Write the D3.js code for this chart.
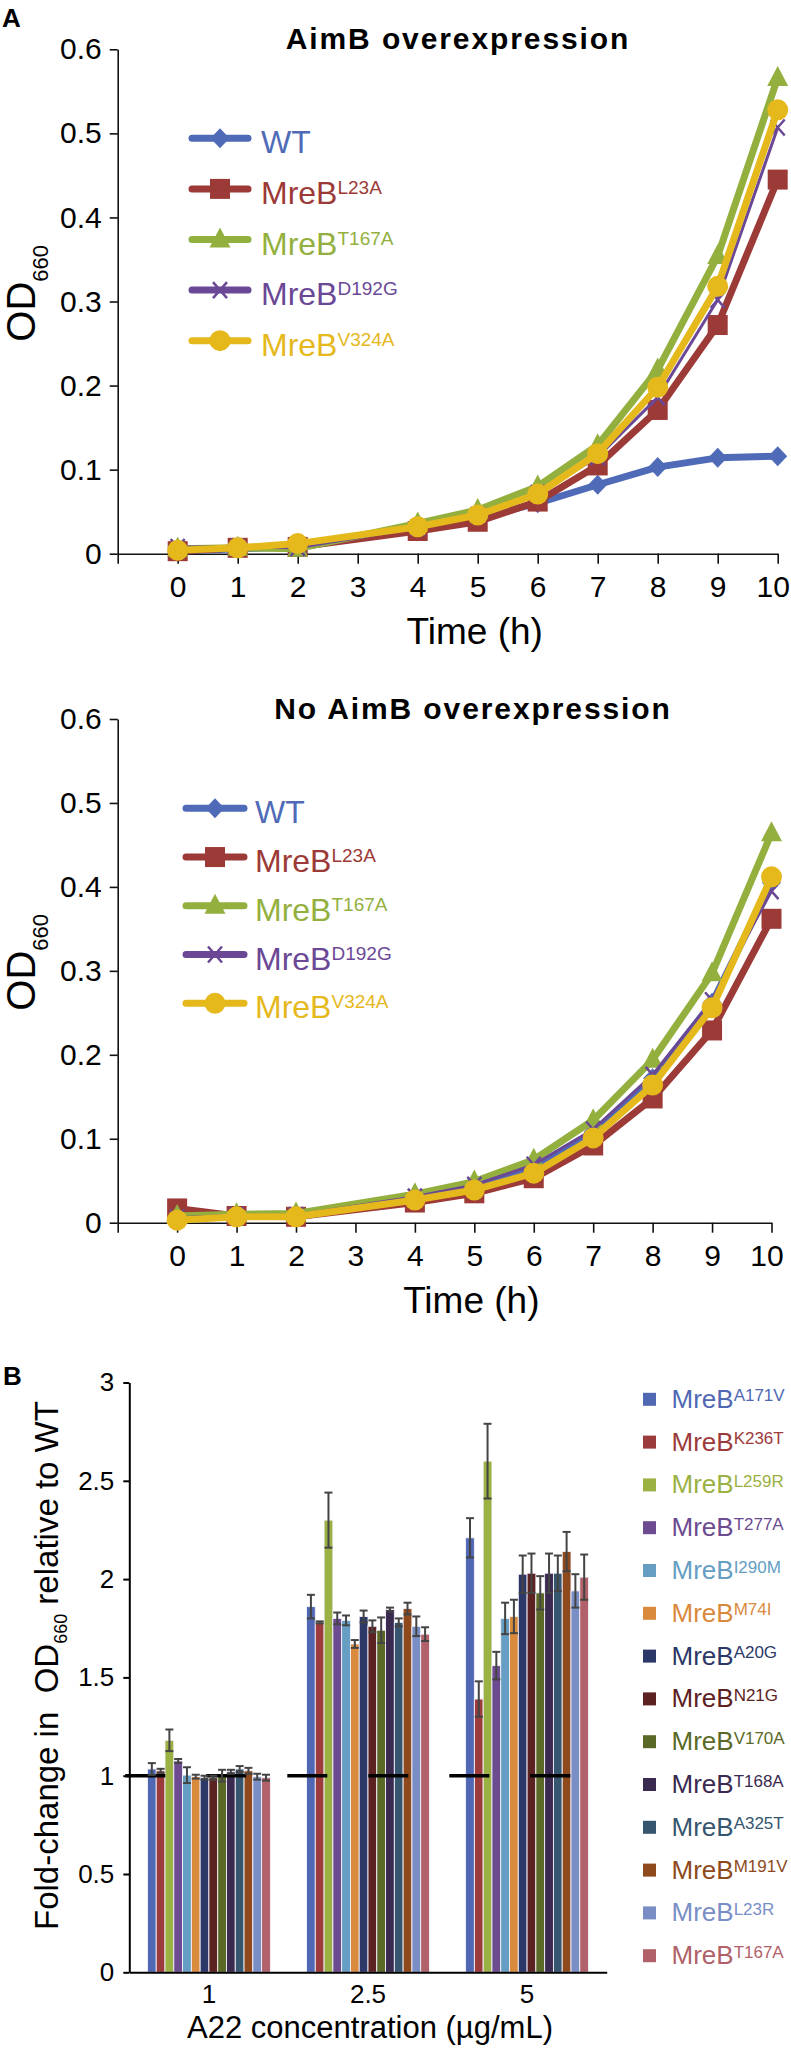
<!DOCTYPE html>
<html>
<head>
<meta charset="utf-8">
<script src="https://cdn.jsdelivr.net/npm/d3@7"></script>
<style>
  body { margin: 0; background: #fff; }
  svg { display: block; font-family: "Liberation Sans", Arial, sans-serif; }
</style>
</head>
<body>
<script>
// ---- data: growth curves (OD660) ----
const hours = [0, 1, 2, 4, 5, 6, 7, 8, 9, 10];
const strains = ["WT", "L23A", "T167A", "D192G", "V324A"];
const strainColors = ["#4f6bb8", "#9c3a38", "#93b03f", "#6b4896", "#e5b81c"];
const strainMarkers = ["diamond", "square", "triangle", "cross", "circle"];
const yTicksOD = [0, 0.1, 0.2, 0.3, 0.4, 0.5, 0.6];

const aimbWT    = [0.003, 0.006, 0.008, 0.030, 0.043, 0.060, 0.082, 0.103, 0.114, 0.116];
const aimbL23A  = [0.003, 0.007, 0.008, 0.027, 0.038, 0.062, 0.105, 0.171, 0.272, 0.445];
const aimbT167A = [0.006, 0.007, 0.006, 0.036, 0.052, 0.080, 0.129, 0.219, 0.354, 0.566];
const aimbD192G = [0.008, 0.008, 0.007, 0.031, 0.046, 0.072, 0.115, 0.186, 0.302, 0.507];
const aimbV324A = [0.004, 0.007, 0.012, 0.032, 0.046, 0.071, 0.119, 0.198, 0.318, 0.528];

const noWT    = [0.004, 0.008, 0.008, 0.030, 0.043, 0.066, 0.108, 0.172, 0.262, 0.405];
const noL23A  = [0.017, 0.008, 0.007, 0.024, 0.035, 0.053, 0.092, 0.148, 0.229, 0.362];
const noT167A = [0.008, 0.010, 0.011, 0.034, 0.049, 0.075, 0.122, 0.194, 0.297, 0.464];
const noD192G = [0.006, 0.009, 0.009, 0.031, 0.045, 0.069, 0.111, 0.176, 0.265, 0.395];
const noV324A = [0.003, 0.007, 0.007, 0.027, 0.039, 0.059, 0.101, 0.164, 0.256, 0.412];

// ---- data: A22 fold change ----
const concentrations = ["1", "2.5", "5"];
const mutants = ["A171V", "K236T", "L259R", "T277A", "I290M", "M74I", "A20G",
                 "N21G", "V170A", "T168A", "A325T", "M191V", "L23R", "T167A"];
const mutantColors = ["#5068b3", "#9c3b3c", "#9bb143", "#6c4b90", "#659ec2", "#d98a3c", "#2b3868",
                      "#5c2121", "#5a6a26", "#3a2a50", "#35566e", "#8e4a1c", "#7a8ec6", "#b06169"];
const fold1  = [1.034, 1.025, 1.18, 1.075, 1.003, 0.995, 0.99, 0.99, 1.0, 1.02, 1.034, 1.025, 0.995, 0.99];
const err1   = [0.03, 0.01, 0.055, 0.01, 0.04, 0.01, 0.01, 0.01, 0.03, 0.01, 0.015, 0.015, 0.015, 0.015];
const fold25 = [1.86, 1.78, 2.30, 1.80, 1.79, 1.67, 1.81, 1.76, 1.74, 1.845, 1.78, 1.85, 1.76, 1.72];
const err25  = [0.06, 0.005, 0.14, 0.03, 0.025, 0.02, 0.03, 0.03, 0.065, 0.01, 0.02, 0.03, 0.05, 0.035];
const fold5  = [2.21, 1.39, 2.60, 1.56, 1.80, 1.81, 2.025, 2.03, 1.93, 2.03, 2.03, 2.14, 1.94, 2.01];
const err5   = [0.10, 0.09, 0.19, 0.07, 0.08, 0.085, 0.095, 0.10, 0.085, 0.10, 0.09, 0.10, 0.085, 0.115];
const yTicksFold = [0, 0.5, 1, 1.5, 2, 2.5, 3];

const svg = d3.select("body").append("svg")
  .attr("width", 791)
  .attr("height", 2051);

// panel letters
svg.append("text").attr("x", 2).attr("y", 27).attr("font-size", 26).attr("font-weight", "bold").text("A");
svg.append("text").attr("x", 3).attr("y", 1385).attr("font-size", 26).attr("font-weight", "bold").text("B");

// draws one marker shape at the origin of sel
function drawMarker(sel, type, color) {
  if (type === "diamond") sel.append("path").attr("d", "M0,-10L9.5,0L0,10L-9.5,0Z").attr("fill", color);
  else if (type === "square") sel.append("rect").attr("x", -10).attr("y", -10).attr("width", 20).attr("height", 20).attr("fill", color);
  else if (type === "triangle") sel.append("path").attr("d", "M0,-12L10.5,8L-10.5,8Z").attr("fill", color);
  else if (type === "circle") sel.append("circle").attr("r", 10.5).attr("fill", color);
  else {
    sel.append("path").attr("d", "M-7,-8L7,8M-7,8L7,-8").attr("stroke", color).attr("stroke-width", 2.5).attr("fill", "none");
  }
}

function lineChart(cfg) {
  const x = d3.scaleLinear().domain([-1, 10]).range([cfg.x0, cfg.x1]);
  const y = d3.scaleLinear().domain([0, 0.6]).range([cfg.bottom, cfg.top]);
  const g = svg.append("g");

  const ya = g.append("g")
    .attr("transform", "translate(" + cfg.x0 + ",0)")
    .call(d3.axisLeft(y).tickValues(yTicksOD).tickSize(8).tickSizeOuter(0).tickPadding(8)
      .tickFormat(d => d === 0 ? "0" : d.toFixed(1)));
  ya.selectAll("text").attr("font-size", 30).attr("fill", "#000").attr("font-family", null);
  ya.selectAll("line, path").attr("stroke", "#111").attr("stroke-width", 1.6);

  const xa = g.append("g")
    .attr("transform", "translate(0," + cfg.bottom + ")")
    .call(d3.axisBottom(x).tickValues(d3.range(-1, 11)).tickSize(10).tickSizeOuter(0).tickPadding(12)
      .tickFormat(d => d < 0 ? "" : d));
  xa.selectAll("text").attr("font-size", 30).attr("fill", "#000").attr("font-family", null);
  // keep the last label inside the page
  xa.selectAll("text").filter(d => d === 10).attr("dx", -5);
  xa.selectAll("line, path").attr("stroke", "#111").attr("stroke-width", 1.6);

  // title
  g.append("text")
    .attr("x", cfg.titleX).attr("y", cfg.top)
    .attr("text-anchor", "middle")
    .attr("font-size", 30).attr("font-weight", "bold")
    .attr("letter-spacing", 1.9)
    .text(cfg.title);

  // x axis title
  g.append("text")
    .attr("x", (x(0) + x(10)) / 2 - 3).attr("y", cfg.bottom + 90)
    .attr("text-anchor", "middle").attr("font-size", 37)
    .text("Time (h)");

  // y axis title OD660
  const yt = g.append("text")
    .attr("transform", "translate(35," + (cfg.bottom - 212) + ") rotate(-90)")
    .attr("font-size", 40);
  yt.append("tspan").text("OD");
  yt.append("tspan").attr("font-size", 22).attr("dy", 13).text("660");

  const line = d3.line().x((d, i) => x(hours[i])).y(d => y(d));

  cfg.series.forEach((vals, s) => {
    const color = strainColors[s];
    g.append("path")
      .attr("d", line(vals))
      .attr("fill", "none")
      .attr("stroke", color)
      .attr("stroke-width", strains[s] === "D192G" ? 3 : 7)
      .attr("stroke-linejoin", "round");
    vals.forEach((v, i) => {
      const m = g.append("g").attr("transform", "translate(" + x(hours[i]) + "," + y(v) + ")");
      drawMarker(m, strainMarkers[s], color);
    });
  });

  // legend
  strains.forEach((name, s) => {
    const cy = cfg.legY + s * cfg.legStep;
    const color = strainColors[s];
    g.append("line")
      .attr("x1", cfg.legX0).attr("x2", cfg.legX1).attr("y1", cy).attr("y2", cy)
      .attr("stroke", color).attr("stroke-width", 7).attr("stroke-linecap", "round");
    drawMarker(g.append("g").attr("transform", "translate(" + (cfg.legX0 + cfg.legX1) / 2 + "," + cy + ")"),
      strainMarkers[s], color);
    const t = g.append("text").attr("x", cfg.legText).attr("y", cy + 15)
      .attr("font-size", 32).attr("fill", color);
    if (name === "WT") {
      t.text("WT");
    } else {
      t.append("tspan").text("MreB");
      t.append("tspan").attr("font-size", 19).attr("dy", -10).text(name);
    }
  });
}

lineChart({
  top: 49.3, bottom: 553.7, x0: 117.7, x1: 777.7,
  title: "AimB overexpression", titleX: 458,
  series: [aimbWT, aimbL23A, aimbT167A, aimbD192G, aimbV324A],
  legX0: 192, legX1: 248, legText: 261, legY: 138.3, legStep: 50.6
});

lineChart({
  top: 719, bottom: 1222.7, x0: 117.7, x1: 771.5,
  title: "No AimB overexpression", titleX: 473,
  series: [noWT, noL23A, noT167A, noD192G, noV324A],
  legX0: 186, legX1: 244, legText: 255, legY: 808.3, legStep: 48.75
});

// ---- bar chart ----
(function () {
  const foldByConc = [fold1, fold25, fold5];
  const errByConc = [err1, err25, err5];
  const x0 = d3.scaleBand().domain(concentrations).range([129.3, 606.7])
    .paddingInner(0.227).paddingOuter(0.114);
  const x1 = d3.scaleBand().domain(mutants).range([0, x0.bandwidth()]);
  const y = d3.scaleLinear().domain([0, 3]).range([1972.3, 1382.5]);
  const g = svg.append("g");

  concentrations.forEach((c, ci) => {
    const grp = g.append("g").attr("transform", "translate(" + x0(c) + ",0)");
    grp.selectAll("rect")
      .data(mutants)
      .enter()
      .append("rect")
      .attr("x", m => x1(m))
      .attr("y", (m, i) => y(foldByConc[ci][i]))
      .attr("width", x1.bandwidth())
      .attr("height", (m, i) => y(0) - y(foldByConc[ci][i]))
      .attr("fill", (m, i) => mutantColors[i])
      .attr("stroke", "#f4f2fa")
      .attr("stroke-width", 0.9);
  });

  // reference line at 1
  g.append("line")
    .attr("x1", x0.range()[0] - 4)
    .attr("x2", x0("5") + x0.bandwidth() * 0.855)
    .attr("y1", y(1)).attr("y2", y(1))
    .attr("stroke", "#000").attr("stroke-width", 3.4)
    .attr("stroke-dasharray", "40 41");

  // error bars
  concentrations.forEach((c, ci) => {
    const grp = g.append("g").attr("transform", "translate(" + x0(c) + ",0)");
    mutants.forEach((m, i) => {
      const cx = x1(m) + x1.bandwidth() / 2;
      const v = foldByConc[ci][i], e = errByConc[ci][i];
      const eb = grp.append("g").attr("stroke", "#444").attr("stroke-width", 2).attr("fill", "none");
      eb.append("line").attr("x1", cx).attr("x2", cx).attr("y1", y(v - e)).attr("y2", y(v + e));
      eb.append("line").attr("x1", cx - 4).attr("x2", cx + 4).attr("y1", y(v - e)).attr("y2", y(v - e));
      eb.append("line").attr("x1", cx - 4).attr("x2", cx + 4).attr("y1", y(v + e)).attr("y2", y(v + e));
    });
  });

  const ya = g.append("g").attr("transform", "translate(129.3,0)")
    .call(d3.axisLeft(y).tickValues(yTicksFold).tickSize(6).tickSizeOuter(0).tickPadding(9)
      .tickFormat(d => String(d)));
  ya.selectAll("text").attr("font-size", 26).attr("fill", "#000").attr("font-family", null);
  ya.selectAll("line, path").attr("stroke", "#000").attr("stroke-width", 2);

  const xa = g.append("g").attr("transform", "translate(0," + y(0) + ")")
    .call(d3.axisBottom(x0).tickSize(0).tickPadding(12.5));
  xa.selectAll("text").attr("font-size", 26).attr("fill", "#000").attr("font-family", null);
  xa.selectAll("path").attr("stroke", "#000").attr("stroke-width", 2);

  g.append("text")
    .attr("x", 370).attr("y", 2038)
    .attr("text-anchor", "middle").attr("font-size", 31)
    .text("A22 concentration (\u00b5g/mL)");

  const yt = g.append("text")
    .attr("transform", "translate(57.5,1930) rotate(-90)")
    .attr("font-size", 33);
  yt.append("tspan").text("Fold-change in\u00a0 OD");
  yt.append("tspan").attr("font-size", 18).attr("dy", 9).text("660");
  yt.append("tspan").attr("dy", -9).text(" relative to WT");

  // legend
  mutants.forEach((m, i) => {
    const cy = 1399.3 + i * 42.8;
    g.append("rect")
      .attr("x", 643).attr("y", cy - 6.5).attr("width", 13).attr("height", 13)
      .attr("fill", mutantColors[i]);
    const t = g.append("text").attr("x", 671.5).attr("y", cy + 8.5)
      .attr("font-size", 26).attr("fill", mutantColors[i]);
    t.append("tspan").text("MreB");
    t.append("tspan").attr("font-size", 17).attr("dy", -6.5).text(m);
  });
})();
</script>
</body>
</html>
